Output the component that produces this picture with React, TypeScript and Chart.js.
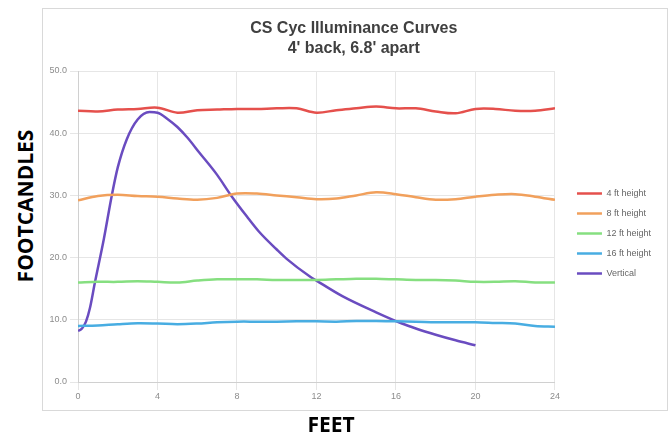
import React, { useEffect, useRef } from 'react';
import { Chart, registerables } from 'chart.js';

Chart.register(...registerables);

// ---- data ----
const feet = [0, 1, 2, 3, 4, 5, 6, 7, 8, 9, 10, 11, 12, 13, 14, 15, 16, 17, 18, 19, 20, 21, 22, 23, 24];
const height4ft = [43.6, 43.5, 43.8, 43.9, 44.1, 43.3, 43.7, 43.8, 43.9, 43.9, 44.0, 44.0, 43.3, 43.7, 44.0, 44.3, 44.0, 44.0, 43.5, 43.2, 43.9, 43.9, 43.6, 43.6, 44.0];
const height8ft = [29.2, 29.9, 30.1, 29.9, 29.8, 29.5, 29.3, 29.6, 30.3, 30.3, 30.0, 29.7, 29.4, 29.5, 30.0, 30.5, 30.2, 29.7, 29.3, 29.4, 29.8, 30.1, 30.2, 29.8, 29.3];
const height12ft = [16.0, 16.1, 16.1, 16.2, 16.1, 16.0, 16.3, 16.5, 16.5, 16.5, 16.4, 16.4, 16.4, 16.5, 16.6, 16.6, 16.5, 16.4, 16.4, 16.3, 16.1, 16.1, 16.2, 16.0, 16.0];
const height16ft = [9.0, 9.1, 9.3, 9.45, 9.4, 9.3, 9.4, 9.6, 9.7, 9.7, 9.7, 9.75, 9.75, 9.7, 9.8, 9.8, 9.75, 9.7, 9.6, 9.6, 9.6, 9.5, 9.4, 9.0, 8.9];
const verticalFeet = [0, 0.2, 0.4, 0.6, 0.85, 1.3, 1.7, 2.0, 2.45, 3.0, 3.6, 4.0, 4.5, 5.0, 5.5, 6.1, 7.0, 7.7, 8.5, 9.1, 10.0, 10.5, 11.65, 12.0, 13.3, 15.0, 16.3, 17.0, 18.0, 19.0, 20.0];
const verticalValues = [8.2, 8.6, 9.7, 11.9, 16.0, 23.0, 30.0, 34.5, 39.0, 42.2, 43.4, 43.3, 42.3, 41.0, 39.3, 36.9, 33.3, 30.0, 26.6, 24.2, 21.3, 19.8, 17.0, 16.3, 13.8, 11.2, 9.4, 8.6, 7.6, 6.7, 5.9];

const seriesLabels = ['4 ft height', '8 ft height', '12 ft height', '16 ft height', 'Vertical'];
const seriesColors = ['#e5504c', '#f1a05c', '#86df80', '#48ade2', '#6a4cc0'];
const titleLines = ['CS Cyc Illuminance Curves', "4' back, 6.8' apart"];
const xAxisTitle = 'FEET';
const yAxisTitle = 'FOOTCANDLES';

const pts = (xs: number[], ys: number[]) => xs.map((x, i) => ({ x, y: ys[i] }));

export default function App() {
  const canvasRef = useRef<HTMLCanvasElement>(null);

  useEffect(() => {
    const flat = [height4ft, height8ft, height12ft, height16ft];
    const datasets: any[] = flat.map((vals, i) => ({
      label: seriesLabels[i],
      data: pts(feet, vals),
      borderColor: seriesColors[i],
      backgroundColor: seriesColors[i],
      borderWidth: 2.5,
      pointRadius: 0,
      tension: 0.35,
    }));
    datasets.push({
      label: seriesLabels[4],
      data: pts(verticalFeet, verticalValues),
      borderColor: seriesColors[4],
      backgroundColor: seriesColors[4],
      borderWidth: 2.5,
      pointRadius: 0,
      cubicInterpolationMode: 'monotone',
    });

    const tickFont = { family: 'Arial, "Liberation Sans", sans-serif', size: 9 };
    const chart = new Chart(canvasRef.current!, {
      type: 'line',
      data: { datasets },
      options: {
        animation: false,
        responsive: false,
        layout: { padding: { left: 3.5, right: 6, top: 0, bottom: 7.2 } },
        plugins: {
          title: {
            display: true,
            text: titleLines,
            color: '#404040',
            font: { family: 'Arial, "Liberation Sans", sans-serif', size: 16, weight: 'bold', lineHeight: 1.25 },
            padding: { top: 10, bottom: 12 },
          },
          legend: {
            position: 'right',
            fullSize: false,
            title: { display: true, text: '', padding: 0, font: { size: 10, lineHeight: '14px' } },
            labels: {
              usePointStyle: true,
              pointStyle: 'line',
              pointStyleWidth: 25,
              padding: 11,
              color: '#666666',
              font: tickFont,
            },
          },
          tooltip: { enabled: false },
        },
        scales: {
          x: {
            type: 'linear',
            min: 0,
            max: 24,
            ticks: { stepSize: 4, color: '#8c8c8c', font: tickFont, padding: 1 },
            grid: { color: '#e6e6e6', tickLength: 8 },
            border: { color: '#d0d0d0' },
          },
          y: {
            type: 'linear',
            min: 0,
            max: 50,
            ticks: { stepSize: 10, color: '#8c8c8c', font: tickFont, padding: 3, callback: (v: any) => Number(v).toFixed(1) },
            grid: { color: '#e6e6e6', tickLength: 8 },
            border: { color: '#d0d0d0' },
          },
          spacer: {
            type: 'linear',
            position: 'right',
            display: true,
            grid: { display: false, drawTicks: false },
            border: { display: false },
            ticks: { display: false },
            afterFit: (s: any) => { s.width = 11; },
          },
        },
      } as any,
    });
    return () => chart.destroy();
  }, []);

  const boldFont = '"Open Sans", "DejaVu Sans", sans-serif';
  return (
    <div style={{ position: 'absolute', left: 0, top: 0, width: 670, height: 437, background: '#fff', overflow: 'hidden' }}>
      <div
        style={{
          position: 'absolute', left: 42, top: 8, width: 624, height: 401,
          border: '1px solid #d9d9d9', background: '#fff',
        }}
      >
        <canvas ref={canvasRef} width={624} height={401} style={{ display: 'block' }} />
      </div>
      <div
        style={{
          position: 'absolute', left: 25, top: 206, transform: 'translate(-50%, -50%) rotate(-90deg)',
          whiteSpace: 'nowrap', fontFamily: boldFont, fontWeight: 700, fontSize: 21, color: '#000', lineHeight: 1,
        }}
      >
        {yAxisTitle}
      </div>
      <div
        style={{
          position: 'absolute', left: 331, top: 424, transform: 'translate(-50%, -50%)',
          whiteSpace: 'nowrap', fontFamily: boldFont, fontWeight: 700, fontSize: 21, color: '#000', lineHeight: 1,
        }}
      >
        {xAxisTitle}
      </div>
    </div>
  );
}
